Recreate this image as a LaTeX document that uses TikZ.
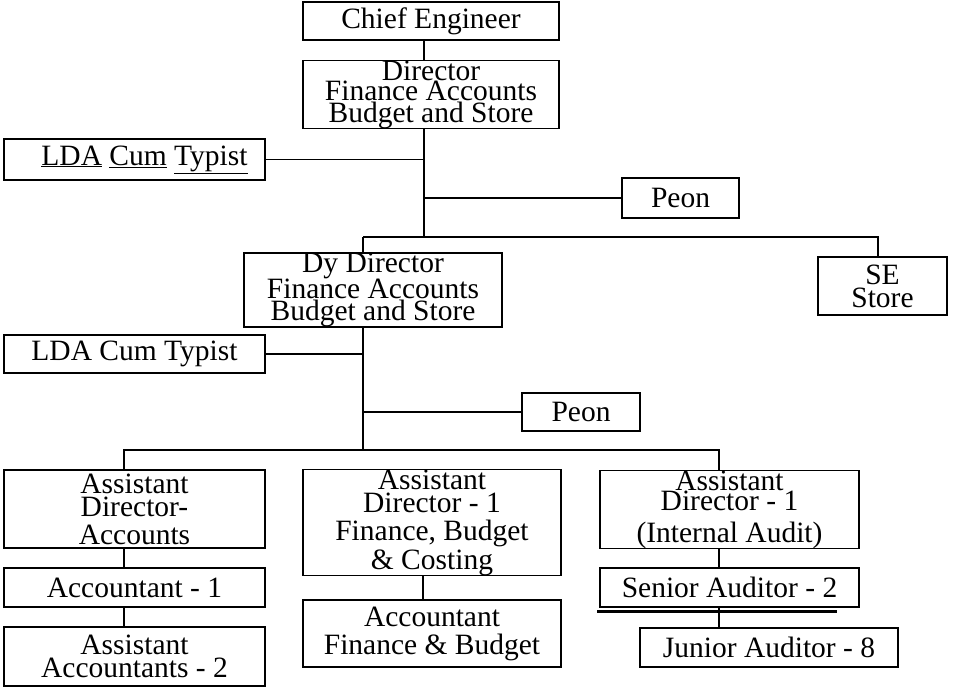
\documentclass[tikz,border=0pt]{standalone}
\usepackage{fontspec}
\setmainfont{Liberation Serif}
\newcommand\orgfont{\fontsize{29.5}{21}\selectfont}
\tikzset{
  orgbox/.style={draw, line width=1.5pt, inner sep=0pt, align=center, font=\orgfont},
  link/.style={line width=1.5pt}
}
\begin{document}
\begin{tikzpicture}[x=1pt, y=-1pt]
\useasboundingbox (0,0) rectangle (959,688);

% upper level
\node[orgbox, minimum width=256, minimum height=38] (chief) at (431,21) {Chief Engineer};
\node[orgbox, minimum width=256, minimum height=67] (dir) at (431,94.5)
  {Director\\[-1pt] Finance Accounts\\[1pt] Budget and Store};
\node[orgbox, minimum width=261, minimum height=41] (lda1) at (134.5,159.5)
  {\hspace{20pt}\underline{LDA} \underline{Cum} \underline{Typist}};
\node[orgbox, minimum width=117, minimum height=40] (peon1) at (680.5,198) {Peon};

% deputy level
\node[orgbox, minimum width=258, minimum height=66] (dy) at (373,290)
  {Dy Director\\[-1pt] Finance Accounts\\[1pt] Budget and Store};
\node[orgbox, minimum width=129, minimum height=58] (se) at (882.5,286) {SE\\[2pt] Store};
\node[orgbox, minimum width=261, minimum height=38] (lda2) at (134.5,354) {LDA Cum Typist};
\node[orgbox, minimum width=118, minimum height=38] (peon2) at (581,412) {Peon};

% assistant directors and their staff
\node[orgbox, minimum width=261, minimum height=78] (ada) at (134.5,509)
  {Assistant\\[2pt] Director-\\[7pt] Accounts};
\node[orgbox, minimum width=261, minimum height=39] (acc1) at (134.5,587.5) {Accountant - 1};
\node[orgbox, minimum width=261, minimum height=59] (aa2) at (134.5,656.5)
  {Assistant\\[2pt] Accountants - 2};

\node[orgbox, minimum width=258, minimum height=105] (adf) at (432,522.5)
  {Assistant\\[2pt] Director - 1\\[7pt] Finance, Budget\\[2pt] \& Costing};
\node[orgbox, minimum width=258, minimum height=67] (accfb) at (432,633.5)
  {Accountant\\[7pt] Finance \& Budget};

\node[orgbox, minimum width=259, minimum height=77] (adia) at (729.5,509.5)
  {Assistant\\[-1pt] Director - 1\\[11pt] (Internal Audit)};
\node[orgbox, minimum width=259, minimum height=39] (sa) at (729.5,587.5) {Senior Auditor - 2};
\node[orgbox, minimum width=258, minimum height=39] (ja) at (769,647.5) {Junior Auditor - 8};

% junction points of the trunks and buses
\coordinate (ta) at (424,237);
\coordinate (tb) at (363,450);
\coordinate (sx) at (878,237);
\coordinate (cl) at (124,450);
\coordinate (cr) at (719,450);
\coordinate (cm) at (423,0);

% connectors
\draw[link] (chief.south -| ta) -- (dir.north -| ta);
\draw[link] (dir.south -| ta) -- (ta);
\draw[link] (lda1.east) -- (lda1.east -| ta);
\draw[link] (peon1.west) -- (peon1.west -| ta);
\draw[link] (tb |- ta) -- (sx) -- (se.north -| sx);
\draw[link] (dy.north -| tb) -- (tb |- ta);
\draw[link] (dy.south -| tb) -- (tb);
\draw[link] (lda2.east) -- (lda2.east -| tb);
\draw[link] (peon2.west) -- (peon2.west -| tb);
\draw[link] (ada.north -| cl) -- (cl) -- (cr) -- (adia.north -| cr);
\draw[link] (ada.south -| cl) -- (acc1.north -| cl);
\draw[link] (acc1.south -| cl) -- (aa2.north -| cl);
\draw[link] (adf.south -| cm) -- (accfb.north -| cm);
\draw[link] (adia.south -| cr) -- (sa.north -| cr);
\draw[link] (sa.south -| cr) -- (ja.north -| cr);

% heavy rule under the senior auditor box
\draw[line width=2.5pt] (597,611.5) -- (837,611.5);
\end{tikzpicture}
\end{document}
